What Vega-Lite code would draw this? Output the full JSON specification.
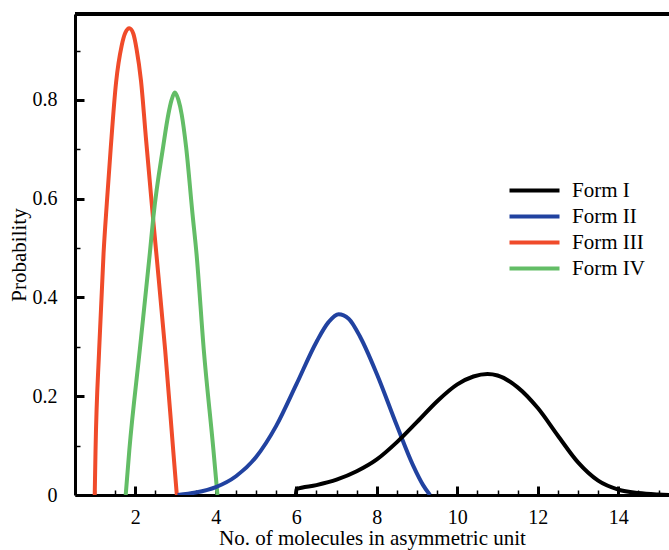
{
  "$schema": "https://vega.github.io/schema/vega-lite/v6.json",
  "width": 594,
  "height": 481,
  "autosize": {"type": "none"},
  "padding": {"left": 75, "top": 14, "right": 0, "bottom": 55},
  "background": "white",
  "config": {"view": {"stroke": null}, "font": "Liberation Serif"},
  "data": {
    "values": [
      {"form": "Form III", "x": 0.99, "p": 0},
      {"form": "Form III", "x": 1.01, "p": 0.09},
      {"form": "Form III", "x": 1.1, "p": 0.294},
      {"form": "Form III", "x": 1.21, "p": 0.49},
      {"form": "Form III", "x": 1.29, "p": 0.59},
      {"form": "Form III", "x": 1.39, "p": 0.705},
      {"form": "Form III", "x": 1.52, "p": 0.835},
      {"form": "Form III", "x": 1.66, "p": 0.91},
      {"form": "Form III", "x": 1.75, "p": 0.936},
      {"form": "Form III", "x": 1.85, "p": 0.945},
      {"form": "Form III", "x": 1.95, "p": 0.934},
      {"form": "Form III", "x": 2.03, "p": 0.903},
      {"form": "Form III", "x": 2.14, "p": 0.839},
      {"form": "Form III", "x": 2.26, "p": 0.725},
      {"form": "Form III", "x": 2.44, "p": 0.56},
      {"form": "Form III", "x": 2.52, "p": 0.49},
      {"form": "Form III", "x": 2.74, "p": 0.294},
      {"form": "Form III", "x": 2.94, "p": 0.091},
      {"form": "Form III", "x": 3.03, "p": 0},
      {"form": "Form IV", "x": 1.76, "p": 0},
      {"form": "Form IV", "x": 1.85, "p": 0.091},
      {"form": "Form IV", "x": 2.11, "p": 0.294},
      {"form": "Form IV", "x": 2.36, "p": 0.49},
      {"form": "Form IV", "x": 2.45, "p": 0.565},
      {"form": "Form IV", "x": 2.69, "p": 0.705},
      {"form": "Form IV", "x": 2.82, "p": 0.771},
      {"form": "Form IV", "x": 2.9, "p": 0.8},
      {"form": "Form IV", "x": 2.98, "p": 0.815},
      {"form": "Form IV", "x": 3.07, "p": 0.8},
      {"form": "Form IV", "x": 3.15, "p": 0.771},
      {"form": "Form IV", "x": 3.26, "p": 0.705},
      {"form": "Form IV", "x": 3.42, "p": 0.569},
      {"form": "Form IV", "x": 3.52, "p": 0.488},
      {"form": "Form IV", "x": 3.7, "p": 0.294},
      {"form": "Form IV", "x": 3.94, "p": 0.091},
      {"form": "Form IV", "x": 4.04, "p": 0},
      {"form": "Form II", "x": 3.05, "p": 0},
      {"form": "Form II", "x": 3.5, "p": 0.005},
      {"form": "Form II", "x": 4.0, "p": 0.016},
      {"form": "Form II", "x": 4.5, "p": 0.038},
      {"form": "Form II", "x": 5.0, "p": 0.077},
      {"form": "Form II", "x": 5.5, "p": 0.14},
      {"form": "Form II", "x": 6.0, "p": 0.224},
      {"form": "Form II", "x": 6.5, "p": 0.31},
      {"form": "Form II", "x": 6.8, "p": 0.35},
      {"form": "Form II", "x": 7.05, "p": 0.366},
      {"form": "Form II", "x": 7.3, "p": 0.357},
      {"form": "Form II", "x": 7.6, "p": 0.318},
      {"form": "Form II", "x": 8.0, "p": 0.245},
      {"form": "Form II", "x": 8.5, "p": 0.14},
      {"form": "Form II", "x": 8.9, "p": 0.06},
      {"form": "Form II", "x": 9.15, "p": 0.02},
      {"form": "Form II", "x": 9.32, "p": 0},
      {"form": "Form I", "x": 5.99, "p": 0},
      {"form": "Form I", "x": 6.0, "p": 0.012},
      {"form": "Form I", "x": 6.5, "p": 0.02},
      {"form": "Form I", "x": 7.0, "p": 0.031},
      {"form": "Form I", "x": 7.5, "p": 0.048},
      {"form": "Form I", "x": 8.0, "p": 0.072},
      {"form": "Form I", "x": 8.5, "p": 0.107},
      {"form": "Form I", "x": 9.0, "p": 0.148},
      {"form": "Form I", "x": 9.5, "p": 0.19},
      {"form": "Form I", "x": 10.0, "p": 0.224},
      {"form": "Form I", "x": 10.4, "p": 0.240},
      {"form": "Form I", "x": 10.75, "p": 0.245},
      {"form": "Form I", "x": 11.0, "p": 0.242},
      {"form": "Form I", "x": 11.5, "p": 0.218},
      {"form": "Form I", "x": 12.0, "p": 0.176},
      {"form": "Form I", "x": 12.5, "p": 0.12},
      {"form": "Form I", "x": 13.0, "p": 0.066},
      {"form": "Form I", "x": 13.5, "p": 0.029},
      {"form": "Form I", "x": 14.0, "p": 0.011},
      {"form": "Form I", "x": 14.5, "p": 0.004},
      {"form": "Form I", "x": 15.0, "p": 0.001},
      {"form": "Form I", "x": 15.3, "p": 0}
    ]
  },
  "layer": [
    {
      "mark": {"type": "line", "strokeWidth": 4, "interpolate": "monotone", "clip": true},
      "encoding": {
        "x": {
          "field": "x",
          "type": "quantitative",
          "scale": {"domain": [0.5, 15.26], "nice": false, "zero": false},
          "axis": {
            "title": "No. of molecules in asymmetric unit",
            "values": [1,1.5,2,2.5,3,3.5,4,4.5,5,5.5,6,6.5,7,7.5,8,8.5,9,9.5,10,10.5,11,11.5,12,12.5,13,13.5,14,14.5,15],
            "labelExpr": "datum.value % 2 === 0 ? format(datum.value, 'd') : ''",
            "tickSize": -9,
            "tickDash": {"condition": {"test": "datum.value % 2 === 0", "value": []}, "value": [5, 30]},
            "tickWidth": {"condition": {"test": "datum.value % 2 === 0", "value": 3}, "value": 1.5},
            "tickColor": "black",
            "domainColor": "black",
            "domainWidth": 3,
            "grid": false,
            "labelFontSize": 20,
            "labelColor": "black",
            "labelPadding": 21,
            "labelOverlap": false,
            "labelFlush": false,
            "titleFontSize": 21,
            "titleFontWeight": "normal",
            "titleColor": "black",
            "titlePadding": 0
          }
        },
        "y": {
          "field": "p",
          "type": "quantitative",
          "scale": {"domain": [0, 0.974], "nice": false},
          "axis": {
            "title": "Probability",
            "values": [0,0.05,0.1,0.15,0.2,0.25,0.3,0.35,0.4,0.45,0.5,0.55,0.6,0.65,0.7,0.75,0.8,0.85,0.9,0.95],
            "labelExpr": "round(datum.value*100) % 20 === 0 ? format(datum.value, '.1~f') : ''",
            "tickSize": -9,
            "tickDash": {"condition": {"test": "round(datum.value*100) % 20 === 0", "value": []}, "value": [5, 30]},
            "tickWidth": {"condition": {"test": "round(datum.value*100) % 20 === 0", "value": 3}, "value": 1.5},
            "tickColor": "black",
            "domainColor": "black",
            "domainWidth": 3,
            "grid": false,
            "labelFontSize": 20,
            "labelColor": "black",
            "labelPadding": 27,
            "labelOverlap": false,
            "labelFlush": false,
            "titleFontSize": 21,
            "titleFontWeight": "normal",
            "titleColor": "black",
            "titlePadding": 3
          }
        },
        "color": {
          "field": "form",
          "type": "nominal",
          "scale": {
            "domain": ["Form I", "Form II", "Form III", "Form IV"],
            "range": ["#000000", "#2142a0", "#f04b2a", "#63bd66"]
          },
          "legend": {
            "orient": "none",
            "legendX": 449,
            "legendY": 166,
            "title": null,
            "symbolType": "M-5,0H5",
            "symbolSize": 100,
            "symbolStrokeWidth": 4,
            "labelFontSize": 21,
            "labelFont": "Liberation Serif",
            "labelColor": "black",
            "labelOffset": 27,
            "rowPadding": 4
          }
        }
      }
    },
    {
      "mark": {"type": "rule", "strokeWidth": 3, "color": "black", "clip": false},
      "encoding": {"y": {"datum": 0.974}}
    }
  ]
}
